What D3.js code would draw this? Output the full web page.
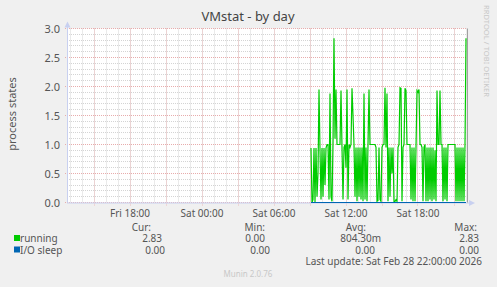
<!DOCTYPE html>
<html>
<head>
<meta charset="utf-8">
<script src="https://cdn.jsdelivr.net/npm/d3@7"></script>
<style>
  body { margin: 0; background: #f0f0f0; }
  svg { display: block; font-family: "Noto Sans", "Open Sans", sans-serif; }
</style>
</head>
<body>
<svg id="chart" width="497" height="287"></svg>
<script>
// time window of the graph (5 minutes per pixel)
var viewStart = new Date(2026, 1, 27, 12, 45);
var viewEnd = new Date(2026, 1, 28, 22, 5);
var dataStart = new Date(2026, 1, 28, 9, 5);
var stepMinutes = 5;

var yTicks = [0, 0.5, 1.0, 1.5, 2.0, 2.5, 3.0];
var xTickTimes = [
  new Date(2026, 1, 27, 18, 0),
  new Date(2026, 1, 28, 0, 0),
  new Date(2026, 1, 28, 6, 0),
  new Date(2026, 1, 28, 12, 0),
  new Date(2026, 1, 28, 18, 0)
];
var xTickLabels = ["Fri 18:00", "Sat 00:00", "Sat 06:00", "Sat 12:00", "Sat 18:00"];

// running processes, one value per 5 min from Sat 09:05 to Sat 22:00
var running = [
  0.94, 0, 0.05, 0.94, 0, 0.94, 0.1, 0.5, 1.95, 0.9,
  0.05, 0.94, 0.1, 0.94, 0.3, 0.94, 1.0, 1.0, 0.05, 1.88,
  0.1, 0.02, 1.05, 2.83, 1.1, 1.95, 1.0, 1.0, 1.0, 1.0,
  1.93, 0.95, 0.05, 0.95, 1.0, 0.6, 1.95, 0.05, 1.0, 0.95,
  1.0, 1.97, 1.5, 1.0, 0.1, 0.95, 0.02, 0.95, 0.1, 0.95,
  0.05, 0.95, 0.02, 1.88, 0.05, 0.95, 0.02, 1.0, 1.95, 1.0,
  1.0, 1.0, 1.0, 1.0, 1.0, 0.95, 0.02, 0.03, 0.95, 0.05,
  0.02, 0.95, 1.0, 1.0, 1.98, 0.95, 1.88, 0.02, 0.95, 0.1,
  0.95, 0.5, 0.95, 0.02, 0.02, 0.05, 0.02, 0.95, 1.0, 1.98,
  1.97, 0.02, 0.95, 1.0, 1.97, 1.93, 1.0, 1.0, 1.0, 1.0,
  0.05, 0.95, 0.02, 0.95, 0.02, 0.95, 1.93, 1.9, 1.95, 1.0,
  1.0, 0.95, 0.02, 0.95, 1.0, 0.02, 0.95, 0.02, 0.95, 0.05,
  0.95, 0.02, 0.95, 0.05, 0.9, 0.02, 1.93, 1.0, 1.0, 1.93,
  1.0, 1.0, 0.02, 0.95, 0.05, 0.95, 0.02, 1.0, 1.0, 1.0,
  1.0, 1.0, 1.0, 1.0, 1.0, 0.02, 0.95, 0.02, 0.95, 0.02,
  0.95, 0.02, 0.95, 0.02, 1.0, 2.83
];
var ioSleep = running.map(function(){ return 0; });

var seriesNames = ["running", "I/O sleep"];
var seriesColors = ["#00cc00", "#0066b3"];
var curVals = ["2.83", "0.00"];
var minVals = ["0.00", "0.00"];
var avgVals = ["804.30m", "0.00"];
var maxVals = ["2.83", "0.00"];

function drawChart(){
  var svg = d3.select("#chart");
  var left = 67, right = 467, plotTop = 28.5, plotBottom = 202.5;

  var x = d3.scaleTime().domain([viewStart, viewEnd]).range([left, right]);
  var y = d3.scaleLinear().domain([0, 3]).range([plotBottom, plotTop]);
  var snap = function(v){ return Math.round(v - 0.5) + 0.5; };

  // plot background
  svg.append("rect")
     .attr("x", left).attr("y", plotTop)
     .attr("width", right - left).attr("height", plotBottom - plotTop)
     .attr("fill", "#ffffff");

  // minor grid
  var grid = svg.append("g");
  grid.selectAll(".vmin")
      .data(x.ticks(d3.timeHour.every(1)))
      .enter().append("line")
      .attr("x1", function(d){ return snap(x(d)); })
      .attr("x2", function(d){ return snap(x(d)); })
      .attr("y1", plotTop).attr("y2", plotBottom)
      .attr("stroke", "#d4d4d4").attr("stroke-dasharray", "1,1");
  grid.selectAll(".hmin")
      .data(d3.range(0, 31).map(function(i){ return i / 10; }))
      .enter().append("line")
      .attr("x1", left).attr("x2", right)
      .attr("y1", function(d){ return snap(y(d)); })
      .attr("y2", function(d){ return snap(y(d)); })
      .attr("stroke", "#d4d4d4").attr("stroke-dasharray", "1,1");

  // major grid
  grid.selectAll(".vmaj")
      .data(x.ticks(d3.timeHour.every(3)))
      .enter().append("line")
      .attr("x1", function(d){ return snap(x(d)); })
      .attr("x2", function(d){ return snap(x(d)); })
      .attr("y1", plotTop).attr("y2", plotBottom + 3)
      .attr("stroke", "#ecbcbc").attr("stroke-dasharray", "1,1");
  grid.selectAll(".hmaj")
      .data(yTicks)
      .enter().append("line")
      .attr("x1", left - 2).attr("x2", right)
      .attr("y1", function(d){ return snap(y(d)); })
      .attr("y2", function(d){ return snap(y(d)); })
      .attr("stroke", "#e8acac").attr("stroke-dasharray", "1,1");

  // axes with arrows
  var axisColor = "#c8d0f0";
  svg.append("line")
     .attr("x1", left + 0.5).attr("x2", left + 0.5)
     .attr("y1", plotBottom).attr("y2", plotTop - 4)
     .attr("stroke", axisColor);
  svg.append("path")
     .attr("d", "M" + (left - 2.5) + "," + (plotTop - 1) + "L" + (left + 0.5) + "," + (plotTop - 7) + "L" + (left + 3.5) + "," + (plotTop - 1) + "Z")
     .attr("fill", axisColor);
  svg.append("line")
     .attr("x1", left).attr("x2", right + 4)
     .attr("y1", plotBottom + 0.5).attr("y2", plotBottom + 0.5)
     .attr("stroke", axisColor);
  svg.append("path")
     .attr("d", "M" + (right + 2) + "," + (plotBottom - 2.5) + "L" + (right + 8) + "," + (plotBottom + 0.5) + "L" + (right + 2) + "," + (plotBottom + 3.5) + "Z")
     .attr("fill", axisColor);

  // right frame line
  svg.append("line")
     .attr("x1", right + 0.5).attr("x2", right + 0.5)
     .attr("y1", plotTop).attr("y2", plotBottom)
     .attr("stroke", "#a0a0a0");

  // series
  var line = d3.line()
    .x(function(d, i){ return x(d3.timeMinute.offset(dataStart, i * stepMinutes)); })
    .y(function(d){ return y(d); });

  svg.append("path")
     .datum(running)
     .attr("d", line)
     .attr("fill", "none")
     .attr("stroke", seriesColors[0])
     .attr("stroke-width", 1.2);

  svg.append("path")
     .datum(ioSleep)
     .attr("d", line)
     .attr("fill", "none")
     .attr("stroke", seriesColors[1])
     .attr("stroke-width", 1);

  // tick labels
  var labelColor = "#555";
  svg.selectAll(".ylab")
     .data(yTicks)
     .enter().append("text")
     .attr("x", 60).attr("y", function(d){ return y(d) + 4; })
     .attr("text-anchor", "end")
     .attr("font-size", 11)
     .attr("fill", labelColor)
     .text(function(d){ return d3.format(".1f")(d); });

  svg.selectAll(".xlab")
     .data(xTickTimes)
     .enter().append("text")
     .attr("x", function(d){ return x(d); })
     .attr("y", 217)
     .attr("text-anchor", "middle")
     .attr("font-size", 10)
     .attr("fill", labelColor)
     .text(function(d, i){ return xTickLabels[i]; });

  // title and axis title
  svg.append("text")
     .attr("x", 248).attr("y", 21)
     .attr("text-anchor", "middle")
     .attr("font-size", 13)
     .attr("fill", "#444")
     .text("VMstat - by day");

  svg.append("text")
     .attr("transform", "translate(16,114) rotate(-90)")
     .attr("text-anchor", "middle")
     .attr("font-size", 11)
     .attr("fill", labelColor)
     .text("process states");

  svg.append("text")
     .attr("transform", "translate(484,5) rotate(90)")
     .attr("font-size", 7.5)
     .attr("textLength", 92)
     .attr("fill", "#c8c8c8")
     .text("RRDTOOL / TOBI OETIKER");

  // legend
  var colsX = [151, 265, 366, 477];
  var heads = ["Cur:", "Min:", "Avg:", "Max:"];
  svg.selectAll(".head")
     .data(heads)
     .enter().append("text")
     .attr("x", function(d, i){ return colsX[i]; })
     .attr("y", 231)
     .attr("text-anchor", "end")
     .attr("font-size", 10)
     .attr("fill", labelColor)
     .text(function(d){ return d; });

  var valueX = [[162, 265, 381, 479], [165, 270, 375, 479]];
  seriesNames.forEach(function(name, i){
    var rowY = 242 + i * 11.5;
    svg.append("rect")
       .attr("x", 14).attr("y", rowY - 7)
       .attr("width", 6).attr("height", 6)
       .attr("fill", seriesColors[i]);
    svg.append("text")
       .attr("x", 20).attr("y", rowY)
       .attr("font-size", 10)
       .attr("fill", labelColor)
       .text(name);
    var vals = [curVals[i], minVals[i], avgVals[i], maxVals[i]];
    vals.forEach(function(v, j){
      svg.append("text")
         .attr("x", valueX[i][j]).attr("y", rowY)
         .attr("text-anchor", "end")
         .attr("font-size", 10)
         .attr("fill", labelColor)
         .text(v);
    });
  });

  svg.append("text")
     .attr("x", 482).attr("y", 265)
     .attr("text-anchor", "end")
     .attr("font-size", 10)
     .attr("fill", labelColor)
     .text("Last update: Sat Feb 28 22:00:00 2026");

  svg.append("text")
     .attr("x", 248).attr("y", 277)
     .attr("text-anchor", "middle")
     .attr("font-size", 8)
     .attr("fill", "#c8c8c8")
     .text("Munin 2.0.76");
}

drawChart();
</script>
</body>
</html>
